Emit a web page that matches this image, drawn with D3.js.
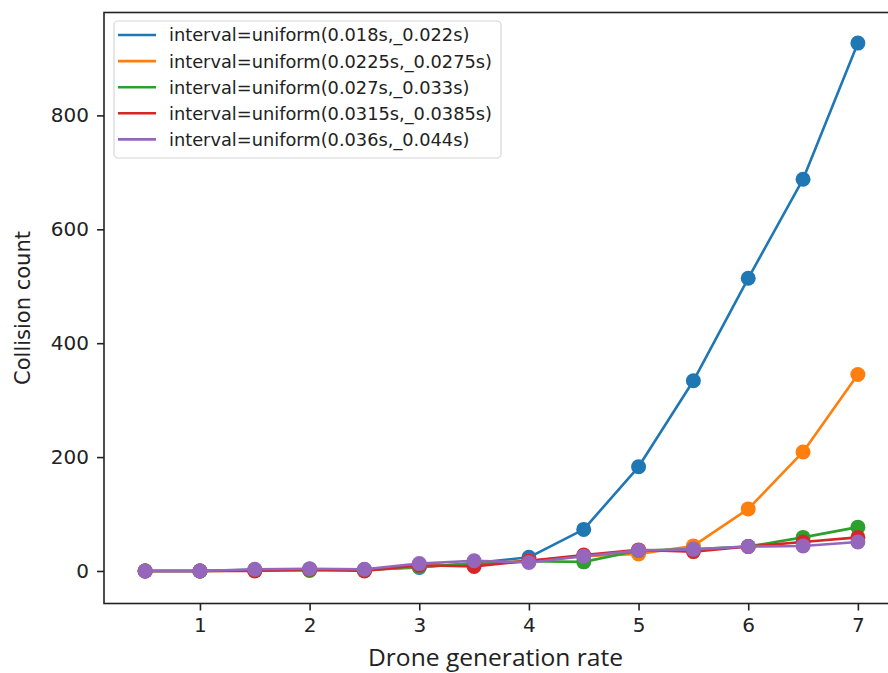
<!DOCTYPE html>
<html>
<head>
<meta charset="utf-8">
<script src="https://cdn.jsdelivr.net/npm/d3@7"></script>
<style>
  html, body { margin: 0; padding: 0; background: #fff; }
  svg { display: block; font-family: "DejaVu Sans", sans-serif; }
</style>
</head>
<body>
<div id="chart"></div>
<script>
// 数据
const rates = [0.5, 1, 1.5, 2, 2.5, 3, 3.5, 4, 4.5, 5, 5.5, 6, 6.5, 7];
const seriesNames = [
  'interval=uniform(0.018s,_0.022s)',
  'interval=uniform(0.0225s,_0.0275s)',
  'interval=uniform(0.027s,_0.033s)',
  'interval=uniform(0.0315s,_0.0385s)',
  'interval=uniform(0.036s,_0.044s)'
];
const blueValues   = [0, 0, 2, 3, 2, 6, 14, 24, 73, 183, 334, 514, 688, 927];
const orangeValues = [0, 0, 1, 2, 1, 8, 12, 18, 26, 30, 44, 109, 209, 345];
const greenValues  = [0, 0, 1, 1, 2, 8, 12, 17, 16, 36, 38, 43, 59, 77];
const redValues    = [0, 0, 0, 3, 0, 10, 8, 18, 28, 37, 34, 43, 51, 59];
const purpleValues = [0, 0, 3, 4, 3, 13, 18, 15, 26, 36, 38, 43, 44, 51];
const xTicks = [1, 2, 3, 4, 5, 6, 7];
const yTicks = [0, 200, 400, 600, 800];
const colors = ['#1f77b4', '#ff7f0e', '#2ca02c', '#d62728', '#9467bd'];

const series = [blueValues, orangeValues, greenValues, redValues, purpleValues]
  .map((vals, i) => ({
    name: seriesNames[i],
    color: colors[i],
    data: vals.map((v, j) => ({ x: rates[j], y: v }))
  }));

const width = 888, height = 673;
const plot = { left: 104, right: 899, top: 12.5, bottom: 603.5 };

const svg = d3.select('#chart').append('svg')
  .attr('width', width)
  .attr('height', height);

const x = d3.scaleLinear().domain([0.125, 7.375]).range([plot.left, plot.right]);
const y = d3.scaleLinear().domain([-57.1, 980.7]).range([plot.bottom, plot.top]);

// 线条和数据点
const line = d3.line().x(d => x(d.x)).y(d => y(d.y));

series.forEach(s => {
  svg.append('path')
    .attr('d', line(s.data))
    .attr('fill', 'none')
    .attr('stroke', s.color)
    .attr('stroke-width', 2.6)
    .attr('stroke-linejoin', 'round')
    .attr('stroke-linecap', 'round');
  svg.append('g')
    .selectAll('circle')
    .data(s.data)
    .join('circle')
    .attr('cx', d => x(d.x))
    .attr('cy', d => y(d.y))
    .attr('r', 7.5)
    .attr('fill', s.color);
});

// 坐标轴
const xAxis = svg.append('g')
  .attr('transform', `translate(0,${plot.bottom})`)
  .call(d3.axisBottom(x).tickValues(xTicks).tickSize(7).tickPadding(7).tickFormat(d3.format('d')));
const yAxis = svg.append('g')
  .attr('transform', `translate(${plot.left},0)`)
  .call(d3.axisLeft(y).tickValues(yTicks).tickSize(7).tickPadding(8).tickFormat(d3.format('d')));

[xAxis, yAxis].forEach(a => {
  a.select('.domain').remove();
  a.selectAll('line').attr('stroke', '#222').attr('stroke-width', 1.6);
  a.selectAll('text')
    .attr('fill', '#222')
    .style('font-size', '20px')
    .style('font-family', '"DejaVu Sans", sans-serif');
});

// 边框
svg.append('rect')
  .attr('x', plot.left)
  .attr('y', plot.top)
  .attr('width', plot.right - plot.left)
  .attr('height', plot.bottom - plot.top)
  .attr('fill', 'none')
  .attr('stroke', '#222')
  .attr('stroke-width', 1.6);

// 轴标题
svg.append('text')
  .attr('x', 495.5)
  .attr('y', 666)
  .attr('text-anchor', 'middle')
  .attr('textLength', 255)
  .attr('lengthAdjust', 'spacingAndGlyphs')
  .style('font-family', '"Open Sans", "Noto Sans", sans-serif')
  .style('font-size', '23px')
  .attr('fill', '#222')
  .text('Drone generation rate');

svg.append('text')
  .attr('transform', 'translate(30,308) rotate(-90)')
  .attr('text-anchor', 'middle')
  .style('font-size', '21px')
  .attr('fill', '#222')
  .text('Collision count');

// 图例
const legend = svg.append('g');
legend.append('rect')
  .attr('x', 114)
  .attr('y', 21)
  .attr('width', 387)
  .attr('height', 137)
  .attr('rx', 4)
  .attr('fill', 'rgba(255,255,255,0.8)')
  .attr('stroke', '#d6d6d6')
  .attr('stroke-width', 1.2);

const items = legend.selectAll('.legend-item')
  .data(series)
  .join('g')
  .attr('class', 'legend-item')
  .attr('transform', (d, i) => `translate(0,${35 + i * 26.1})`);

items.append('line')
  .attr('x1', 118)
  .attr('x2', 156)
  .attr('stroke', d => d.color)
  .attr('stroke-width', 2.6);

items.append('text')
  .attr('x', 169)
  .attr('y', 0)
  .attr('dy', '0.36em')
  .style('font-size', '17.8px')
  .attr('fill', '#222')
  .text(d => d.name);
</script>
</body>
</html>
